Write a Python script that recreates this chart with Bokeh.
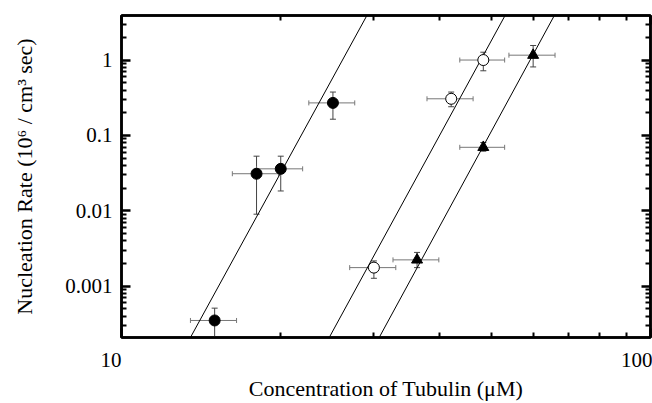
from bokeh.plotting import figure
from bokeh.models import (LogAxis, FixedTicker, ColumnDataSource, Whisker,
                          TeeHead, Range1d)
from bokeh.embed import file_html
from bokeh.resources import INLINE

# ---- data ----
filled_x = [15.0, 18.0, 20.0, 25.1]
filled_y = [0.00035, 0.031, 0.036, 0.27]
filled_y_lo = [0.000208, 0.009, 0.0183, 0.164]
filled_y_hi = [0.00051, 0.053, 0.053, 0.376]
filled_x_err = [1.5, 1.8, 2.0, 2.5]

open_x = [30.0, 42.0, 48.3]
open_y = [0.00176, 0.306, 1.0]
open_y_lo = [0.00127, 0.24, 0.72]
open_y_hi = [0.00216, 0.376, 1.27]
open_x_err = [3.0, 4.2, 4.7]

tri_x = [36.2, 48.3, 60.0]
tri_y = [0.00223, 0.0695, 1.16]
tri_y_lo = [0.00176, 0.0617, 0.81]
tri_y_hi = [0.0028, 0.0805, 1.56]
tri_x_err = [3.6, 4.7, 6.0]

# fitted power-law lines (endpoints at the bottom and top of the plot)
fit_y = [0.000208, 3.9]
fit1_x = [13.5, 29.1]
fit2_x = [24.7, 53.1]
fit3_x = [30.7, 65.8]

x_major = [10, 100]
x_minor = [20, 30, 40, 50, 60, 70, 80, 90]
x_labels = ["10", "100"]
y_major = [0.001, 0.01, 0.1, 1]
y_labels = ["0.001", "0.01", "0.1", "1"]
y_minor = [m * 10.0 ** e for e in range(-4, 1) for m in range(2, 10)]

FONT = "Liberation Serif"
x_label_pad = ["\u00a0" * 4, ""]

p = figure(width=652, height=403, x_axis_type="log", y_axis_type="log",
           x_range=Range1d(10, 100), y_range=Range1d(0.000208, 3.9),
           output_backend="svg", toolbar_location=None,
           min_border_left=121, min_border_right=2, min_border_top=15,
           min_border_bottom=55)
p.grid.visible = False
p.outline_line_color = "black"
p.outline_line_width = 2.5
p.background_fill_color = "white"
p.border_fill_color = "white"


def style(ax, ticks, minor, labels):
    ax.ticker = FixedTicker(ticks=ticks, minor_ticks=minor)
    ax.axis_line_color = "black"
    ax.axis_line_width = 2.5
    ax.major_tick_in = 9
    ax.major_tick_out = 0
    ax.minor_tick_in = 5
    ax.minor_tick_out = 0
    ax.major_tick_line_width = 2.5
    ax.minor_tick_line_width = 2
    ax.major_label_text_font = FONT
    ax.major_label_text_color = "black"
    ax.major_label_overrides = {t: l for t, l in zip(ticks, labels)}
    ax.major_label_text_font_size = "21px"


style(p.xaxis[0], x_major, x_minor,
      [l + pad for l, pad in zip(x_labels, x_label_pad)])
style(p.yaxis[0], y_major, y_minor, y_labels)
p.xaxis.major_label_standoff = 10
p.yaxis.major_label_standoff = 9
p.xaxis.axis_label = "Concentration of Tubulin (\u03bcM)"
p.yaxis.axis_label = "Nucleation Rate (10\u2076 / cm\u00b3 sec)"
for ax in (p.xaxis[0], p.yaxis[0]):
    ax.axis_label_text_font = FONT
    ax.axis_label_text_font_size = "22px"
    ax.axis_label_text_font_style = "normal"
    ax.axis_label_text_color = "black"
p.xaxis.axis_label_standoff = 1
p.yaxis.axis_label_standoff = 25

top = LogAxis()
style(top, x_major, x_minor, [" "] * len(x_major))
top.major_label_text_alpha = 0
top.major_label_text_font_size = "2px"
top.major_label_standoff = 0
p.add_layout(top, "above")
right = LogAxis()
style(right, y_major, y_minor, [" "] * len(y_major))
right.major_label_text_alpha = 0
right.major_label_text_font_size = "2px"
right.major_label_standoff = 0
p.add_layout(right, "right")

# fit lines
for fx in (fit1_x, fit2_x, fit3_x):
    p.line(fx, fit_y, line_color="black", line_width=1)


def errbars(xs, ys, ylo, yhi, xerr):
    src = ColumnDataSource(dict(
        x=xs, y=ys, ylo=ylo, yhi=yhi,
        xlo=[a - e for a, e in zip(xs, xerr)],
        xhi=[a + e for a, e in zip(xs, xerr)]))
    p.add_layout(Whisker(source=src, base="x", lower="ylo", upper="yhi",
                         dimension="height", line_color="#444", line_width=1,
                         upper_head=TeeHead(size=6, line_color="#444", line_width=1),
                         lower_head=TeeHead(size=6, line_color="#444", line_width=1)))
    p.add_layout(Whisker(source=src, base="y", lower="xlo", upper="xhi",
                         dimension="width", line_color="#777", line_width=1,
                         upper_head=TeeHead(size=5, line_color="#777", line_width=1),
                         lower_head=TeeHead(size=5, line_color="#777", line_width=1)))
    return src


s1 = errbars(filled_x, filled_y, filled_y_lo, filled_y_hi, filled_x_err)
s2 = errbars(open_x, open_y, open_y_lo, open_y_hi, open_x_err)
s3 = errbars(tri_x, tri_y, tri_y_lo, tri_y_hi, tri_x_err)

p.scatter("x", "y", source=s1, marker="circle", size=11,
          fill_color="black", line_color="black")
p.scatter("x", "y", source=s2, marker="circle", size=11,
          fill_color="white", line_color="black", line_width=1)
p.scatter("x", "y", source=s3, marker="triangle", size=11,
          fill_color="black", line_color="black")

open("out.html", "w").write(file_html(p, INLINE))
